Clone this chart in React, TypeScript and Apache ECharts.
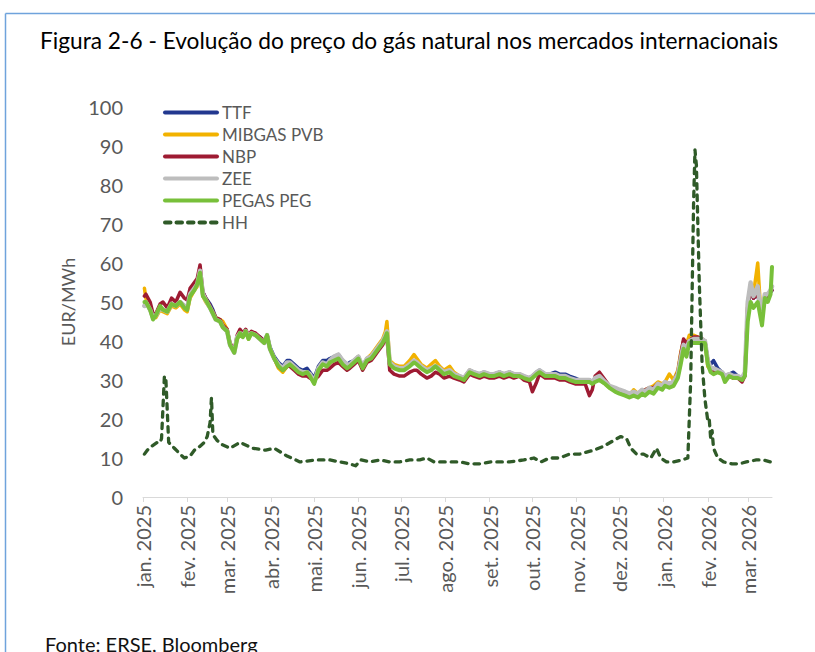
import React, { useEffect, useRef } from 'react';
import * as echarts from 'echarts';

const TITLE = 'Figura 2-6 - Evolução do preço do gás natural nos mercados internacionais';
const SOURCE = 'Fonte: ERSE, Bloomberg';
const Y_NAME = 'EUR/MWh';
const MONTH_LABELS = ['jan.', 'fev.', 'mar.', 'abr.', 'mai.', 'jun.', 'jul.', 'ago.', 'set.', 'out.', 'nov.', 'dez.'];
const AXIS_START = '2025-01-01';
const AXIS_END = '2026-03-18';
const SERIES_NAMES = ['TTF', 'MIBGAS PVB', 'NBP', 'ZEE', 'PEGAS PEG', 'HH'];

const hubDates = [
  '2025-01-02','2025-01-03','2025-01-06','2025-01-08','2025-01-10','2025-01-13','2025-01-15','2025-01-18','2025-01-21','2025-01-24','2025-01-27','2025-01-30',
  '2025-02-01','2025-02-03','2025-02-06','2025-02-08','2025-02-10','2025-02-12','2025-02-14','2025-02-17','2025-02-19','2025-02-21','2025-02-24','2025-02-26',
  '2025-03-01','2025-03-03','2025-03-06','2025-03-08','2025-03-10','2025-03-12','2025-03-14','2025-03-16','2025-03-18','2025-03-21','2025-03-24','2025-03-27','2025-03-29','2025-03-31',
  '2025-04-03','2025-04-06','2025-04-09','2025-04-12','2025-04-14','2025-04-17','2025-04-20','2025-04-23','2025-04-26','2025-04-28',
  '2025-05-01','2025-05-04','2025-05-07','2025-05-10','2025-05-12','2025-05-15','2025-05-18','2025-05-21','2025-05-24','2025-05-26','2025-05-29',
  '2025-06-01','2025-06-04','2025-06-07','2025-06-10','2025-06-12','2025-06-15','2025-06-18','2025-06-20','2025-06-21','2025-06-23','2025-06-26','2025-06-30',
  '2025-07-03','2025-07-07','2025-07-10','2025-07-12','2025-07-15','2025-07-19','2025-07-22','2025-07-25','2025-07-28','2025-07-31',
  '2025-08-04','2025-08-07','2025-08-11','2025-08-14','2025-08-18','2025-08-21','2025-08-25','2025-08-28',
  '2025-09-01','2025-09-04','2025-09-08','2025-09-11','2025-09-15','2025-09-18','2025-09-22','2025-09-25','2025-09-29',
  '2025-10-01','2025-10-04','2025-10-06','2025-10-10','2025-10-13','2025-10-17','2025-10-20','2025-10-24','2025-10-27','2025-10-31',
  '2025-11-03','2025-11-07','2025-11-10','2025-11-12','2025-11-14','2025-11-17','2025-11-21','2025-11-24','2025-11-28',
  '2025-12-01','2025-12-05','2025-12-08','2025-12-11','2025-12-14','2025-12-17','2025-12-19','2025-12-22','2025-12-25','2025-12-28','2025-12-31',
  '2026-01-02','2026-01-05','2026-01-08','2026-01-11','2026-01-13','2026-01-15','2026-01-17','2026-01-19','2026-01-22','2026-01-25','2026-01-28','2026-01-30',
  '2026-02-01','2026-02-03','2026-02-05','2026-02-08','2026-02-11','2026-02-13','2026-02-16','2026-02-19','2026-02-22','2026-02-25','2026-02-27',
  '2026-03-01','2026-03-03','2026-03-05','2026-03-08','2026-03-10','2026-03-11','2026-03-13','2026-03-15','2026-03-17','2026-03-18',
];

const ttf = [
  49, 50, 48, 46, 46.5, 48.5, 48, 47.5, 49.5, 49, 50, 49,
  48.5, 52, 53.5, 54.5, 57, 52.5, 51, 49.5, 48, 46, 45, 43.5,
  42.5, 39, 37.5, 41, 42, 41.5, 42.5, 41, 42, 41.5, 41, 40, 41.5, 38.5,
  36, 34.5, 33.5, 35, 35, 34, 33, 32.5, 33, 32,
  30.5, 33.5, 35, 35, 35.5, 36, 36.5, 35, 34, 34.5, 35,
  36, 33.5, 35.5, 36, 37, 38.5, 40, 41.5, 42, 34, 33.5, 33,
  33, 34, 35, 34.5, 33.5, 32.5, 33, 33.5, 33, 32,
  32.5, 31.5, 31, 30.5, 32.5, 32, 31.5, 32,
  31.5, 31.5, 32, 31.5, 32, 31.5, 31.5, 31, 30.5,
  31, 32, 32.5, 31.5, 31.5, 32, 31.5, 31.5, 31, 30.5,
  30, 30, 30, 29.5, 30, 30.5, 29.5, 28.5, 27.5,
  27, 26.5, 26, 26.5, 26.5, 27, 27, 27.5, 27.5, 28.5, 28,
  29, 29, 29.5, 31.5, 36, 40, 38.5, 40.5, 40.5, 40, 40, 40,
  35, 34, 35, 33, 32, 31, 31.5, 32, 31, 30.5, 31.5,
  49, 53, 51, 52, 48, 47, 51.5, 51.5, 52.5, 53,
];

const mibgas = [
  53.5, 51, 48, 46, 46, 48, 47.5, 47, 49, 48.5, 49.5, 48,
  47.5, 51, 53, 54, 57.5, 51.5, 50, 48.5, 47.5, 46, 45.5, 45,
  43, 39, 37.5, 40.5, 42, 41, 42.5, 40.5, 42, 41.5, 40.5, 39.5, 41.5, 38,
  35.5, 33, 32, 33.5, 34, 33, 32, 31.5, 32, 31,
  29.5, 32.5, 34, 33.5, 34.5, 35, 35.5, 34.5, 33.5, 34, 35,
  36, 33.5, 35.5, 36.5, 37.5, 39, 40.5, 42.5, 45, 35, 34, 33.5,
  33.5, 35, 36.5, 35.5, 34, 33, 34, 35, 33.5, 32.5,
  33.5, 32, 31, 30.5, 32.5, 31.5, 31, 31.5,
  31, 31, 31.5, 31.5, 31.5, 31, 31, 30.5, 30.5,
  31, 32, 32, 31, 31, 31.5, 31, 30.5, 30, 30,
  29.5, 29.5, 29.5, 29, 30, 30, 29, 28, 27.5,
  27, 26.5, 26, 27.5, 26.5, 27.5, 27.5, 28, 28.5, 29.5, 29,
  29.5, 31.5, 30, 32.5, 37, 40, 39, 41.5, 41.5, 41, 40.5, 40,
  33.5, 32.5, 32, 32, 31.5, 30.5, 31, 30.5, 30.5, 30, 32,
  50, 54, 52, 60, 48, 47, 52, 52, 53, 54,
];

const nbp = [
  51.5, 52, 50, 47, 47, 49.5, 50, 48.5, 51, 50, 52.5, 51,
  50.5, 53.5, 55, 56, 59.5, 52.5, 51, 49, 47.5, 46, 45.5, 44,
  43, 39.5, 37.5, 41.5, 43, 42, 43, 41.5, 42.5, 42, 41, 40, 41.5, 38,
  35.5, 33.5, 32.5, 33.5, 33.5, 32.5, 31.5, 31, 31, 30.5,
  30, 31, 32.5, 32.5, 33, 34, 34.5, 33.5, 32.5, 33, 34,
  35, 32.5, 34.5, 35, 36, 37.5, 39, 40.5, 41, 32.5, 31.5, 31,
  31, 32, 32.5, 32.5, 31.5, 30.5, 31, 32, 31.5, 30.5,
  31, 30.5, 30, 29.5, 31.5, 31, 30.5, 31,
  30.5, 30.5, 31, 30.5, 31, 30.5, 31, 30, 29.5,
  27, 29.5, 31.5, 30.5, 30.5, 30.5, 30, 30, 29.5, 29,
  29, 29, 26, 27.5, 31, 32, 30, 28.5, 27.5,
  27, 26.5, 26, 26.5, 26.5, 27, 27.5, 28, 28, 29, 28.5,
  29.5, 29, 29.5, 32, 36.5, 40.5, 39.5, 40, 41, 41, 40.5, 40,
  35, 33, 32.5, 32, 32, 30.5, 31, 30.5, 30.5, 29.5, 31,
  49, 53, 51, 52, 48, 47, 51.5, 51.5, 53, 53,
];

const zee = [
  49, 50, 48, 46, 46.5, 48.5, 48, 47.5, 49.5, 49, 50, 49,
  48.5, 52, 53.5, 54.5, 58, 52, 50.5, 48.5, 47, 45.5, 45, 43.5,
  42.5, 39, 37, 41, 42, 41.5, 42.5, 41, 42, 41.5, 40.5, 39.5, 41.5, 38,
  35.5, 34, 33, 34.5, 34.5, 33.5, 32.5, 32, 32, 31.5,
  29.5, 33, 34.5, 34, 35, 36, 36.5, 35, 34, 34, 35,
  36, 33.5, 35.5, 36, 37, 38.5, 40, 41.5, 42.5, 34.5, 33.5, 33,
  33, 34, 35, 34.5, 33.5, 32.5, 33, 33.5, 33, 32,
  32.5, 31.5, 31, 30.5, 32.5, 32, 31.5, 32,
  31.5, 31.5, 32, 31.5, 32, 31.5, 31.5, 31, 30.5,
  31, 32, 32.5, 31.5, 31.5, 31.5, 31, 31, 30.5, 30,
  30, 30, 30, 29.5, 30.5, 31, 29.5, 28.5, 28,
  27.5, 27, 26.5, 27, 26.5, 27.5, 27, 28, 27.5, 29, 28.5,
  29.5, 29, 29.5, 31.5, 35.5, 39, 38, 40, 40.5, 40.5, 40.5, 40,
  35, 33, 33, 32.5, 32, 31, 31.5, 31, 31, 30.5, 32,
  50, 55, 51.5, 54, 48, 47, 52, 52, 53, 54,
];

const pegas = [
  50, 50, 48, 45.5, 46.5, 49, 48, 47.5, 49.5, 49, 50, 48.5,
  48, 51.5, 53, 54.5, 57.5, 51.5, 50.5, 48.5, 47, 45.5, 45, 43.5,
  42.5, 39, 37, 40.5, 42, 41, 42.5, 40.5, 42, 41.5, 40.5, 39.5, 41.5, 38,
  35.5, 33.5, 32.5, 33.5, 34, 33, 32, 31.5, 32, 31,
  29, 32.5, 34, 33.5, 34.5, 35, 35.5, 34, 33, 33.5, 34.5,
  35.5, 33, 35, 35.5, 36.5, 38, 39.5, 41, 42, 34, 33, 32.5,
  32.5, 33.5, 34.5, 34, 33, 32, 32.5, 33.5, 32.5, 31.5,
  32, 31, 30.5, 30, 32, 31.5, 31, 31.5,
  31, 31, 31.5, 31, 31.5, 31, 31, 30.5, 30,
  30.5, 31.5, 32, 31, 31, 31, 30.5, 30.5, 30, 29.5,
  29.5, 29.5, 29.5, 29, 29.5, 30, 29, 28, 27,
  26.5, 26, 25.5, 26, 25.5, 26.5, 26, 27, 26.5, 28, 27.5,
  28.5, 28, 28.5, 30.5, 34, 38, 36, 39.5, 39.5, 39.5, 39.5, 39.5,
  34, 32, 31.5, 32, 31.5, 29.5, 31, 30.5, 30.5, 30, 31,
  45, 50, 48.5, 50, 46, 44, 51, 50, 52, 59,
];

const hhDates = [
  '2025-01-02','2025-01-04','2025-01-07','2025-01-11','2025-01-13','2025-01-14','2025-01-16','2025-01-17','2025-01-19','2025-01-23','2025-01-27','2025-01-30',
  '2025-02-03','2025-02-06','2025-02-10','2025-02-13','2025-02-15','2025-02-17','2025-02-18','2025-02-19','2025-02-22','2025-02-25',
  '2025-03-03','2025-03-10','2025-03-19','2025-03-28',
  '2025-04-03','2025-04-12','2025-04-21',
  '2025-05-03','2025-05-12','2025-05-19','2025-05-26','2025-05-30',
  '2025-06-03','2025-06-09','2025-06-16','2025-06-23','2025-06-30',
  '2025-07-07','2025-07-14','2025-07-19','2025-07-24','2025-07-31',
  '2025-08-11','2025-08-18','2025-08-25',
  '2025-09-02','2025-09-08','2025-09-15','2025-09-25',
  '2025-10-02','2025-10-07','2025-10-13','2025-10-20','2025-10-27',
  '2025-11-03','2025-11-13','2025-11-20','2025-11-27',
  '2025-12-02','2025-12-06','2025-12-09','2025-12-13','2025-12-18','2025-12-23','2025-12-27','2025-12-30',
  '2026-01-03','2026-01-08','2026-01-14','2026-01-18','2026-01-20','2026-01-22','2026-01-23','2026-01-24','2026-01-26','2026-01-28','2026-01-30',
  '2026-02-01','2026-02-02','2026-02-03','2026-02-04','2026-02-05','2026-02-08','2026-02-12','2026-02-18','2026-02-23','2026-02-28',
  '2026-03-07','2026-03-12','2026-03-17',
];

const hh = [
  11, 12, 13, 14, 14, 15, 31, 30.5, 14, 12.5, 11, 10,
  10.5, 12, 13, 14, 15.5, 19, 25.5, 16, 14.5, 13.5,
  12.5, 14, 12.5, 12,
  12.5, 10.5, 9,
  9.5, 9.5, 9, 8.5, 8,
  9.5, 9, 9.5, 9, 9,
  9.5, 9.5, 10, 9, 9,
  9, 8.5, 8.5,
  9, 9, 9, 9.5,
  10, 9, 10, 10, 11,
  11, 12, 13, 14.5,
  15.5, 15, 12.5, 11, 11, 10, 12.5, 10,
  9, 9, 9.5, 10, 30, 75, 89, 85, 55, 34, 25,
  19.5, 20, 15, 17, 12.5, 10, 9, 8.5, 8.5, 9,
  9.5, 9.5, 9,
];

function buildDays(start: string, end: string): string[] {
  const out: string[] = [];
  const d = new Date(start + 'T00:00:00Z');
  const e = new Date(end + 'T00:00:00Z');
  while (d.getTime() <= e.getTime()) {
    out.push(d.toISOString().slice(0, 10));
    d.setUTCDate(d.getUTCDate() + 1);
  }
  return out;
}

const FONT = 'Lato, "Noto Sans", sans-serif';
const TEXT_GREY = '#595959';

export default function App() {
  const ref = useRef<HTMLDivElement>(null);

  useEffect(() => {
    if (!ref.current) return;
    const chart = echarts.init(ref.current, null, { renderer: 'svg' });
    const days = buildDays(AXIS_START, AXIS_END);
    const isMonthStart = (_i: number, v: string) => String(v).endsWith('-01');

    const hubs = [
      { name: SERIES_NAMES[0], values: ttf, color: '#22388f', width: 3.5 },
      { name: SERIES_NAMES[1], values: mibgas, color: '#f2b200', width: 3.5 },
      { name: SERIES_NAMES[2], values: nbp, color: '#9e1b32', width: 3.5 },
      { name: SERIES_NAMES[3], values: zee, color: '#bdbdbd', width: 4.5 },
      { name: SERIES_NAMES[4], values: pegas, color: '#78c03a', width: 4 },
    ];

    const series: any[] = hubs.map((h) => ({
      name: h.name,
      type: 'line',
      symbol: 'none',
      showSymbol: false,
      data: hubDates.map((d, i) => [d, h.values[i]]),
      lineStyle: { color: h.color, width: h.width, join: 'round', cap: 'round' },
      itemStyle: { color: h.color },
      emphasis: { disabled: true },
    }));
    series.push({
      name: SERIES_NAMES[5],
      type: 'line',
      symbol: 'none',
      showSymbol: false,
      data: hhDates.map((d, i) => [d, hh[i]]),
      lineStyle: { color: '#2f5a28', width: 3.3, type: [5.5, 6], cap: 'round', join: 'round' },
      itemStyle: { color: '#2f5a28' },
      emphasis: { disabled: true },
    });

    chart.setOption({
      animation: false,
      backgroundColor: '#ffffff',
      textStyle: { fontFamily: FONT },
      grid: { left: 143, right: 43, top: 107, bottom: 155, outerBoundsMode: 'none' },
      legend: {
        orient: 'vertical',
        left: 163,
        top: 104,
        padding: 0,
        itemWidth: 52,
        itemHeight: 14,
        itemGap: 5,
        selectedMode: false,
        data: SERIES_NAMES,
        itemStyle: { opacity: 0 },
        lineStyle: { width: 4 },
        textStyle: { fontSize: 17, color: TEXT_GREY, fontFamily: FONT },
      },
      xAxis: {
        type: 'category',
        data: days,
        boundaryGap: false,
        axisLine: { show: true, lineStyle: { color: '#d9d9d9', width: 1 } },
        axisTick: { show: true, interval: isMonthStart, length: 5, lineStyle: { color: '#d9d9d9' } },
        axisLabel: {
          interval: isMonthStart,
          rotate: 90,
          margin: 8,
          fontSize: 20,
          color: TEXT_GREY,
          fontFamily: FONT,
          formatter: (v: string) => {
            const parts = String(v).split('-');
            return MONTH_LABELS[Number(parts[1]) - 1] + ' ' + parts[0];
          },
        },
        splitLine: { show: false },
      },
      yAxis: {
        type: 'value',
        min: 0,
        max: 100,
        interval: 10,
        name: Y_NAME,
        nameLocation: 'middle',
        nameGap: 64,
        nameTextStyle: { fontSize: 18, color: TEXT_GREY, fontFamily: FONT },
        axisLine: { show: false },
        axisTick: { show: false },
        splitLine: { show: false },
        axisLabel: { fontSize: 20, color: TEXT_GREY, margin: 20, fontFamily: FONT },
      },
      graphic: [
        { type: 'line', silent: true, shape: { x1: 5.5, y1: 13.5, x2: 815, y2: 13.5 }, style: { stroke: '#6fa3dc', lineWidth: 1.5 } },
        { type: 'line', silent: true, shape: { x1: 5.5, y1: 13.5, x2: 5.5, y2: 652 }, style: { stroke: '#6fa3dc', lineWidth: 1.5 } },
        { type: 'text', left: 40, top: 29, silent: true, style: { text: TITLE, fontSize: 22.7, fontFamily: FONT, fill: '#000000' } },
        { type: 'text', left: 45, top: 634, silent: true, style: { text: SOURCE, fontSize: 20, fontFamily: FONT, fill: '#111111' } },
      ],
      series,
    });

    return () => chart.dispose();
  }, []);

  return (
    <div
      ref={ref}
      style={{ position: 'fixed', left: 0, top: 0, width: 815, height: 652, background: '#ffffff' }}
    />
  );
}
